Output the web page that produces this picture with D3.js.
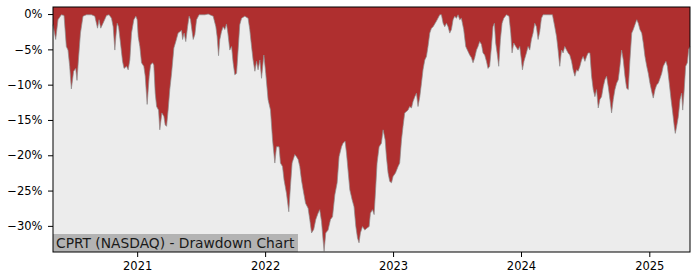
<!DOCTYPE html>
<html>
<head>
<meta charset="utf-8">
<script src="https://cdn.jsdelivr.net/npm/d3@7"></script>
<style>
  body { margin: 0; background: #fff; }
  text { font-family: "DejaVu Sans", sans-serif; }
</style>
</head>
<body>
<div id="main"></div>
<script>
// chart setup
const ctx = {width: 700, height: 280,
  margin: {top: 7, right: 10, bottom: 28, left: 53},
  title: "CPRT (NASDAQ) - Drawdown Chart"
};

// dates as decimal years
const years = [2020.344,2020.365,2020.383,2020.409,2020.430,2020.448,2020.461,2020.474,2020.487,2020.505,
  2020.521,2020.531,2020.542,2020.558,2020.578,2020.605,2020.644,2020.670,2020.691,2020.703,
  2020.716,2020.734,2020.761,2020.781,2020.800,2020.813,2020.826,2020.834,2020.844,2020.855,
  2020.870,2020.886,2020.898,2020.917,2020.930,2020.943,2020.956,2020.974,2020.990,2021.000,
  2021.008,2021.021,2021.034,2021.052,2021.063,2021.078,2021.094,2021.105,2021.120,2021.130,
  2021.141,2021.152,2021.167,2021.177,2021.193,2021.209,2021.219,2021.230,2021.242,2021.255,
  2021.269,2021.287,2021.302,2021.320,2021.334,2021.347,2021.355,2021.367,2021.380,2021.394,
  2021.406,2021.417,2021.427,2021.438,2021.451,2021.464,2021.484,2021.529,2021.555,2021.581,
  2021.594,2021.615,2021.625,2021.636,2021.646,2021.659,2021.672,2021.685,2021.698,2021.709,
  2021.724,2021.738,2021.750,2021.763,2021.777,2021.789,2021.802,2021.816,2021.841,2021.867,
  2021.880,2021.894,2021.906,2021.920,2021.933,2021.945,2021.959,2021.972,2021.990,2022.005,
  2022.023,2022.042,2022.058,2022.076,2022.089,2022.109,2022.120,2022.136,2022.148,2022.167,
  2022.185,2022.198,2022.211,2022.232,2022.245,2022.258,2022.271,2022.284,2022.297,2022.316,
  2022.336,2022.349,2022.363,2022.380,2022.396,2022.414,2022.427,2022.441,2022.453,2022.461,
  2022.474,2022.492,2022.511,2022.527,2022.545,2022.563,2022.578,2022.597,2022.609,2022.625,
  2022.636,2022.648,2022.662,2022.680,2022.695,2022.709,2022.722,2022.734,2022.745,2022.761,
  2022.779,2022.797,2022.813,2022.823,2022.839,2022.852,2022.865,2022.875,2022.891,2022.909,
  2022.922,2022.938,2022.948,2022.961,2022.974,2022.988,2023.000,2023.019,2023.039,2023.052,
  2023.066,2023.078,2023.091,2023.105,2023.117,2023.130,2023.144,2023.156,2023.170,2023.183,
  2023.195,2023.209,2023.222,2023.234,2023.248,2023.261,2023.273,2023.287,2023.300,2023.313,
  2023.339,2023.365,2023.378,2023.391,2023.404,2023.417,2023.430,2023.443,2023.456,2023.469,
  2023.482,2023.495,2023.508,2023.521,2023.534,2023.552,2023.568,2023.586,2023.599,2023.613,
  2023.625,2023.638,2023.652,2023.664,2023.677,2023.691,2023.703,2023.716,2023.730,2023.742,
  2023.755,2023.769,2023.781,2023.792,2023.802,2023.813,2023.826,2023.839,2023.852,2023.865,
  2023.886,2023.906,2023.920,2023.930,2023.943,2023.959,2023.977,2023.990,2024.003,2024.011,
  2024.023,2024.042,2024.055,2024.068,2024.081,2024.094,2024.107,2024.120,2024.133,2024.146,
  2024.159,2024.172,2024.198,2024.224,2024.245,2024.263,2024.277,2024.289,2024.302,2024.316,
  2024.328,2024.341,2024.355,2024.367,2024.380,2024.394,2024.406,2024.420,2024.433,2024.445,
  2024.459,2024.472,2024.484,2024.498,2024.511,2024.523,2024.537,2024.550,2024.563,2024.576,
  2024.589,2024.602,2024.615,2024.628,2024.641,2024.654,2024.667,2024.680,2024.693,2024.706,
  2024.719,2024.732,2024.745,2024.758,2024.771,2024.784,2024.797,2024.810,2024.823,2024.836,
  2024.849,2024.863,2024.875,2024.888,2024.902,2024.914,2024.927,2024.941,2024.953,2024.966,
  2024.980,2024.992,2025.005,2025.019,2025.031,2025.045,2025.058,2025.070,2025.084,2025.097,
  2025.109,2025.123,2025.130,2025.141,2025.156,2025.170,2025.183,2025.195,2025.203,2025.214,
  2025.227,2025.240,2025.253,2025.261,2025.271,2025.284,2025.297,2025.308,2025.318];

// drawdown in percent
const drawdown = [-1.5,-3.6,-0.8,-0.1,-0.2,-4.6,-5.1,-7.4,-10.6,-8.1,
  -7.7,-9.4,-6.5,-2.7,-0.3,-0.1,-0.1,-0.3,-2.0,-0.8,
  -2.0,-1.3,-0.2,-0.1,-0.6,-1.8,-5.1,-3.2,-1.3,-1.8,
  -4.1,-6.7,-7.7,-7.4,-7.9,-6.5,-2.7,-0.8,-0.3,-0.8,
  -3.2,-4.6,-6.9,-7.4,-8.8,-12.8,-8.8,-7.2,-6.9,-7.2,
  -11.2,-13.1,-13.6,-16.4,-14.0,-14.5,-15.7,-15.9,-13.6,-10.7,
  -8.4,-4.8,-3.9,-2.7,-2.5,-2.3,-3.6,-2.7,-3.9,-1.8,
  -0.3,-0.8,-2.2,-3.6,-2.9,-0.8,-0.1,-0.1,0,-0.2,
  -0.3,-1.8,-3.2,-5.9,-3.6,-2.5,-1.8,-2.2,-1.4,-2.7,
  -5.1,-4.6,-6.9,-8.6,-8.4,-5.1,-1.5,-0.6,-0.3,-0.6,
  -2.2,-4.6,-6.5,-8.1,-6.7,-7.9,-6.5,-9.1,-5.8,-8.4,
  -12.1,-13.6,-17.8,-21.1,-18.8,-18.8,-21.1,-21.6,-23.5,-25.4,
  -28.0,-24.4,-21.1,-19.9,-20.2,-20.6,-21.6,-23.5,-24.9,-26.8,
  -27.5,-29.1,-31.0,-30.5,-29.1,-28.2,-27.7,-29.4,-32.0,-33.6,
  -31.0,-30.6,-29.1,-28.7,-25.6,-23.9,-20.2,-18.8,-18.3,-18.0,
  -19.7,-22.1,-24.9,-26.3,-27.3,-30.1,-31.7,-32.4,-31.0,-30.1,
  -30.6,-30.3,-30.1,-28.2,-27.7,-28.4,-24.4,-21.1,-18.8,-18.3,
  -16.4,-17.8,-20.2,-22.5,-23.7,-23.9,-23.0,-22.5,-21.6,-21.1,
  -17.8,-15.9,-14.0,-13.8,-13.6,-13.1,-13.3,-12.4,-11.7,-11.2,
  -13.1,-11.7,-9.8,-7.9,-6.5,-6.0,-4.6,-2.7,-2.0,-1.8,
  -1.0,-0.1,-0.1,-1.3,-1.8,-1.3,-1.8,-2.7,-2.2,-0.8,
  -0.3,-0.6,-0.1,-0.8,-0.6,-2.2,-4.6,-5.3,-5.8,-6.2,
  -6.9,-6.2,-5.1,-4.6,-3.9,-4.3,-5.5,-5.8,-6.7,-7.7,
  -7.4,-4.6,-1.8,-1.3,-4.1,-5.5,-7.4,-3.6,-1.3,-0.6,
  -0.1,-0.3,-2.7,-5.5,-4.1,-4.6,-5.1,-4.6,-6.5,-7.9,
  -6.7,-5.5,-4.6,-5.1,-3.6,-2.7,-1.3,-1.8,-3.6,-2.5,
  -0.6,-0.1,-0.1,-0.1,-0.1,-1.8,-3.2,-5.1,-7.4,-5.1,
  -5.5,-4.6,-5.1,-5.5,-5.8,-6.7,-7.9,-8.8,-7.9,-8.1,
  -7.4,-6.5,-6.0,-6.7,-6.0,-5.5,-5.5,-8.8,-10.7,-11.7,
  -10.7,-13.3,-12.1,-11.7,-10.3,-9.3,-8.8,-10.3,-12.1,-14.0,
  -12.1,-10.7,-9.8,-9.3,-7.4,-5.1,-6.5,-8.8,-10.5,-10.7,
  -6.5,-2.7,-2.2,-1.5,-0.8,-1.3,-2.2,-2.7,-4.1,-6.0,
  -7.4,-8.4,-9.8,-11.0,-11.9,-10.7,-10.0,-9.8,-9.1,-8.4,
  -7.4,-6.9,-6.7,-7.4,-9.8,-12.1,-14.0,-15.9,-16.9,-15.9,
  -14.5,-12.1,-11.2,-13.6,-11.2,-7.4,-6.9,-5.0,-4.6];

const yTicks = [0, -5, -10, -15, -20, -25, -30];
const yDomain = [-33.7, 1.0];

// decimal year -> Date (UTC)
function toDate(t){
  const y = Math.floor(t);
  const a = Date.UTC(y, 0, 1), b = Date.UTC(y + 1, 0, 1);
  return new Date(a + (t - y) * (b - a));
}

function createViz(){
  const m = ctx.margin;
  const w = ctx.width - m.left - m.right;
  const h = ctx.height - m.top - m.bottom;

  const data = years.map((t, i) => ({date: toDate(t), dd: drawdown[i]}));

  const svg = d3.select("#main").append("svg")
    .attr("width", ctx.width)
    .attr("height", ctx.height);

  const g = svg.append("g").attr("transform", `translate(${m.left},${m.top})`);

  const x = d3.scaleUtc()
    .domain(d3.extent(data, d => d.date))
    .range([0, w]);
  const y = d3.scaleLinear()
    .domain(yDomain)
    .range([h, 0]);

  // plot background
  g.append("rect")
    .attr("width", w).attr("height", h)
    .attr("fill", "#ececec");

  // drawdown area, filled from the top of the plot down to the curve
  g.append("path")
    .datum(data)
    .attr("fill", "#af2f2f")
    .attr("d", d3.area()
      .x(d => x(d.date))
      .y0(0)
      .y1(d => y(d.dd)));

  g.append("path")
    .datum(data)
    .attr("fill", "none")
    .attr("stroke", "#8c8c8c")
    .attr("stroke-width", 0.7)
    .attr("d", d3.line()
      .x(d => x(d.date))
      .y(d => y(d.dd)));

  // label box in the lower left corner
  const label = g.append("g").attr("transform", `translate(0,${h})`);
  const txt = label.append("text")
    .attr("x", 3)
    .attr("y", -4.5)
    .attr("font-size", "13.8px")
    .attr("fill", "#1a1a1a")
    .text(ctx.title);
  const bb = txt.node().getBBox();
  label.insert("rect", "text")
    .attr("x", 0)
    .attr("y", -18)
    .attr("width", bb.width + 6)
    .attr("height", 18)
    .attr("fill", "#b3b3b3");

  // axes
  const fmt = v => (v < 0 ? "\u2212" : "") + Math.abs(v) + "%";
  const yAxis = g.append("g")
    .call(d3.axisLeft(y).tickValues(yTicks).tickFormat(fmt).tickSize(5).tickPadding(5.5));
  const xAxis = g.append("g")
    .attr("transform", `translate(0,${h})`)
    .call(d3.axisBottom(x).ticks(d3.utcYear.every(1)).tickFormat(d3.utcFormat("%Y")).tickSize(5).tickPadding(5));

  [xAxis, yAxis].forEach(a => {
    a.select(".domain").remove();
    a.selectAll("text").attr("font-size", "11.5px").attr("fill", "#000")
      .attr("font-family", "DejaVu Sans, sans-serif");
    a.selectAll("line").attr("stroke", "#000").attr("stroke-width", 1);
  });

  // frame
  g.append("rect")
    .attr("width", w).attr("height", h)
    .attr("fill", "none")
    .attr("stroke", "#000")
    .attr("stroke-width", 1);
}

createViz();
</script>
</body>
</html>
